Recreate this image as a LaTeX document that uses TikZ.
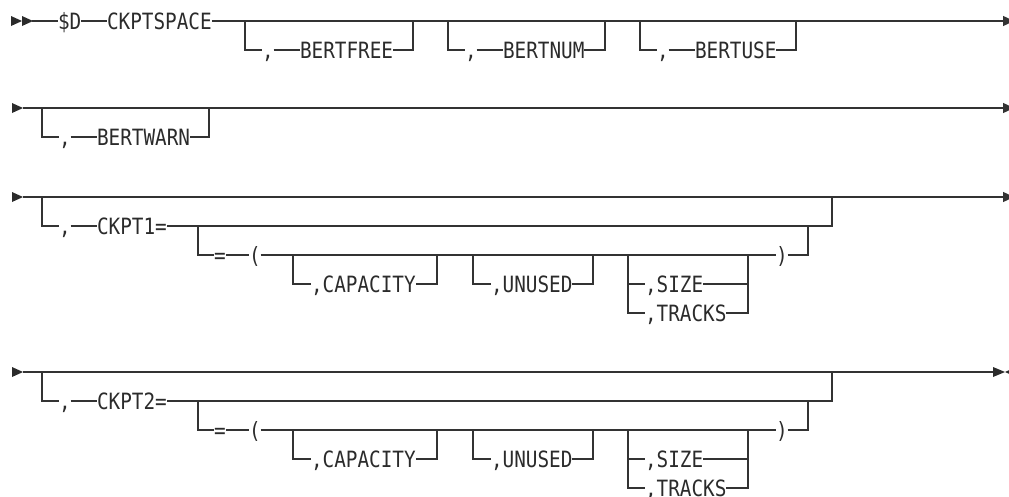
\documentclass[tikz,border=0pt]{standalone}
\usepackage{fontspec}
\setmonofont{DejaVu Sans Mono}
\usetikzlibrary{arrows.meta}
\definecolor{ink}{HTML}{2B2B2B}
\definecolor{railgray}{HTML}{333333}

\begin{document}
\begin{tikzpicture}[
    x=0.75pt, y=-0.75pt,
    font=\ttfamily\fontsize{14.5pt}{17pt}\selectfont,
    tok/.style={inner sep=0pt, outer sep=0pt, text height=10.6pt, text depth=0pt, anchor=west, text=ink, yscale=1.16, transform shape},
    rail/.style={draw=railgray, line width=1pt},
    railend/.style={rail, -{Triangle[length=8.25pt, width=7.5pt]}},
    head/.style={fill=ink},
]
    \useasboundingbox (0,0) rectangle (1009,496);

    % --- Row 1: $D CKPTSPACE ---
    \fill[head] (11,16) -- (22,21) -- (11,26) -- cycle;
    \fill[head] (22,16) -- (33,21) -- (22,26) -- cycle;
    \coordinate (r1in) at (32,21);
    \node[tok] (dcmd) at (58,21) {\$D};
    \node[tok] (ckptspace) at (107,21) {CKPTSPACE};
    \coordinate (r1out) at (1014,21);
    \draw[rail] (r1in) -- (dcmd.west);
    \draw[rail] (dcmd.east) -- (ckptspace.west);
    \draw[railend] (ckptspace.east) -- (r1out);

    % BERTFREE
    \coordinate (bfreeL) at (245,21);
    \coordinate (bfreeR) at (413,21);
    \node[tok] (bfreec) at (262,50) {,};
    \node[tok] (bfree) at (300,50) {BERTFREE};
    \draw[rail] (bfreeL) |- (bfreec.west);
    \draw[rail] (bfreec.east) -- (bfree.west);
    \draw[rail] (bfree.east) -| (bfreeR);

    % BERTNUM
    \coordinate (bnumL) at (448,21);
    \coordinate (bnumR) at (605,21);
    \node[tok] (bnumc) at (465,50) {,};
    \node[tok] (bnum) at (503,50) {BERTNUM};
    \draw[rail] (bnumL) |- (bnumc.west);
    \draw[rail] (bnumc.east) -- (bnum.west);
    \draw[rail] (bnum.east) -| (bnumR);

    % BERTUSE
    \coordinate (buseL) at (640,21);
    \coordinate (buseR) at (796,21);
    \node[tok] (busec) at (657,50) {,};
    \node[tok] (buse) at (695,50) {BERTUSE};
    \draw[rail] (buseL) |- (busec.west);
    \draw[rail] (busec.east) -- (buse.west);
    \draw[rail] (buse.east) -| (buseR);

    % --- Row 2: BERTWARN ---
    \fill[head] (12,103) -- (23,108) -- (12,113) -- cycle;
    \coordinate (r2in) at (23,108);
    \coordinate (r2out) at (1014,108);
    \draw[railend] (r2in) -- (r2out);
    \coordinate (bwarnL) at (42,108);
    \coordinate (bwarnR) at (209,108);
    \node[tok] (bwarnc) at (59,137) {,};
    \node[tok] (bwarn) at (97,137) {BERTWARN};
    \draw[rail] (bwarnL) |- (bwarnc.west);
    \draw[rail] (bwarnc.east) -- (bwarn.west);
    \draw[rail] (bwarn.east) -| (bwarnR);

    % --- Row 3: CKPT1= ---
    \fill[head] (12,192) -- (23,197) -- (12,202) -- cycle;
    \coordinate (r3in) at (23,197);
    \coordinate (r3out) at (1014,197);
    \draw[railend] (r3in) -- (r3out);
    \coordinate (ck1L) at (42,197);
    \coordinate (ck1R) at (832,197);
    \node[tok] (ck1c) at (59,226) {,};
    \node[tok] (ck1) at (97,226) {CKPT1=};
    \draw[rail] (ck1L) |- (ck1c.west);
    \draw[rail] (ck1c.east) -- (ck1.west);
    \draw[rail] (ck1.east) -| (ck1R);

    % =( ... ) part
    \coordinate (par1L) at (198,226);
    \coordinate (par1R) at (808,226);
    \node[tok] (eq1) at (214,255) {=};
    \node[tok] (lp1) at (249,255) {(};
    \node[tok] (rp1) at (776,255) {)};
    \draw[rail] (par1L) |- (eq1.west);
    \draw[rail] (eq1.east) -- (lp1.west);
    \draw[rail] (lp1.east) -- (rp1.west);
    \draw[rail] (rp1.east) -| (par1R);

    \coordinate (cap1L) at (293,255);
    \coordinate (cap1R) at (437,255);
    \node[tok] (cap1) at (311,284) {,CAPACITY};
    \draw[rail] (cap1L) |- (cap1.west);
    \draw[rail] (cap1.east) -| (cap1R);

    \coordinate (unu1L) at (473,255);
    \coordinate (unu1R) at (593,255);
    \node[tok] (unu1) at (491,284) {,UNUSED};
    \draw[rail] (unu1L) |- (unu1.west);
    \draw[rail] (unu1.east) -| (unu1R);

    \coordinate (sz1L) at (628,255);
    \coordinate (sz1R) at (748,255);
    \node[tok] (size1) at (645,284) {,SIZE};
    \node[tok] (trk1) at (645,313) {,TRACKS};
    \draw[rail] (sz1L) |- (trk1.west);
    \draw[rail] (trk1.east) -| (sz1R);
    \draw[rail] (sz1L |- size1.west) -- (size1.west);
    \draw[rail] (size1.east) -- (sz1R |- size1.east);

    % --- Row 4: CKPT2= ---
    \fill[head] (12,367) -- (23,372) -- (12,377) -- cycle;
    \coordinate (r4in) at (23,372);
    \coordinate (r4out) at (993,372);
    \draw[rail] (r4in) -- (r4out);
    \fill[head] (993,367) -- (1005,372) -- (993,377) -- cycle;
    \fill[head] (1016,367) -- (1005,372) -- (1016,377) -- cycle;
    \coordinate (ck2L) at (42,372);
    \coordinate (ck2R) at (832,372);
    \node[tok] (ck2c) at (59,401) {,};
    \node[tok] (ck2) at (97,401) {CKPT2=};
    \draw[rail] (ck2L) |- (ck2c.west);
    \draw[rail] (ck2c.east) -- (ck2.west);
    \draw[rail] (ck2.east) -| (ck2R);

    % =( ... ) part
    \coordinate (par2L) at (198,401);
    \coordinate (par2R) at (808,401);
    \node[tok] (eq2) at (214,430) {=};
    \node[tok] (lp2) at (249,430) {(};
    \node[tok] (rp2) at (776,430) {)};
    \draw[rail] (par2L) |- (eq2.west);
    \draw[rail] (eq2.east) -- (lp2.west);
    \draw[rail] (lp2.east) -- (rp2.west);
    \draw[rail] (rp2.east) -| (par2R);

    \coordinate (cap2L) at (293,430);
    \coordinate (cap2R) at (437,430);
    \node[tok] (cap2) at (311,459) {,CAPACITY};
    \draw[rail] (cap2L) |- (cap2.west);
    \draw[rail] (cap2.east) -| (cap2R);

    \coordinate (unu2L) at (473,430);
    \coordinate (unu2R) at (593,430);
    \node[tok] (unu2) at (491,459) {,UNUSED};
    \draw[rail] (unu2L) |- (unu2.west);
    \draw[rail] (unu2.east) -| (unu2R);

    \coordinate (sz2L) at (628,430);
    \coordinate (sz2R) at (748,430);
    \node[tok] (size2) at (645,459) {,SIZE};
    \node[tok] (trk2) at (645,488) {,TRACKS};
    \draw[rail] (sz2L) |- (trk2.west);
    \draw[rail] (trk2.east) -| (sz2R);
    \draw[rail] (sz2L |- size2.west) -- (size2.west);
    \draw[rail] (size2.east) -- (sz2R |- size2.east);

\end{tikzpicture}
\end{document}
